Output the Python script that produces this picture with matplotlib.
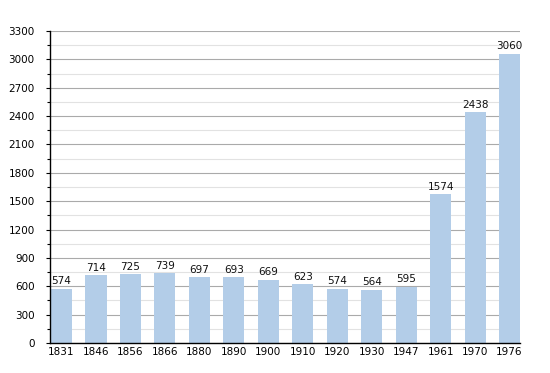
import matplotlib
matplotlib.use('Agg')
import matplotlib.pyplot as plt
from matplotlib.ticker import MultipleLocator

# ─── data ───
years = ['1831', '1846', '1856', '1866', '1880', '1890', '1900',
         '1910', '1920', '1930', '1947', '1961', '1970', '1976']
population = [574, 714, 725, 739, 697, 693, 669,
              623, 574, 564, 595, 1574, 2438, 3060]

fig = plt.figure(figsize=(5.5, 3.73), dpi=100, facecolor='white')
ax = fig.add_axes([50/550, 1 - 343/373, 470/550, 312/373])

x = range(len(years))
ax.bar(x, population, width=0.61, color='#b3cde8', zorder=2)

for xi, v in zip(x, population):
    ax.text(xi, v + 25, str(v), ha='center', va='bottom', fontsize=7.5,
            color='#111111', zorder=3)

ax.set_xlim(-0.335, 13.305)
ax.set_ylim(0, 3300)
ax.yaxis.set_major_locator(MultipleLocator(300))
ax.yaxis.set_minor_locator(MultipleLocator(150))
ax.set_xticks(list(x))
ax.set_xticklabels(years)

ax.grid(axis='y', which='major', color='#aaaaaa', linewidth=0.8, zorder=0)
ax.grid(axis='y', which='minor', color='#e2e2e2', linewidth=0.8, zorder=0)
ax.set_axisbelow(True)

for s in ['top', 'right']:
    ax.spines[s].set_visible(False)
ax.spines['left'].set_linewidth(1.0)
ax.spines['bottom'].set_linewidth(1.0)

ax.tick_params(axis='y', which='major', length=3, width=0.8, labelsize=7.5,
               pad=8)
ax.tick_params(axis='y', which='minor', length=2, width=0.8)
ax.tick_params(axis='x', length=0, labelsize=7.5, pad=3)

fig.savefig('out.png', dpi=100)
